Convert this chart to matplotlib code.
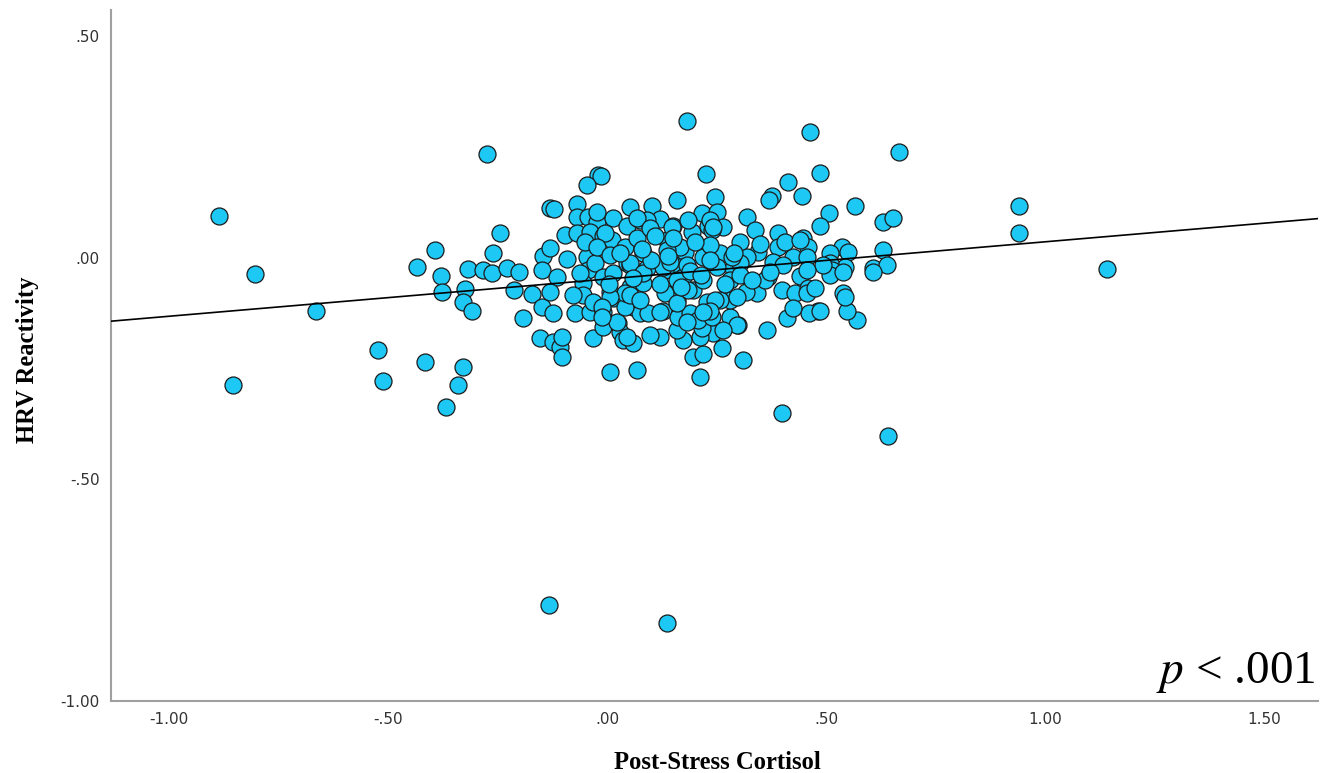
import matplotlib
matplotlib.use("Agg")
import matplotlib.pyplot as plt

# post-stress cortisol (x) vs HRV reactivity (y)
cortisol = [
    -0.886, -0.854, -0.804, -0.664, -0.523, -0.511, -0.434, -0.416, -0.393, -0.379,
    -0.377, -0.368, -0.340, -0.329, -0.324, -0.329, -0.317, -0.308, -0.274, -0.283,
    -0.263, -0.260, -0.244, -0.228, -0.201, -0.212, -0.192, -0.171, -0.148, -0.123,
    -0.153, -0.123, -0.107, -0.103, -0.146, -0.148, -0.091, -0.046, -0.043, -0.055,
    -0.073, -0.039, -0.032, 0.007, 0.068, -0.009, 0.025, 0.030, 0.037, 0.059,
    0.059, 0.014, -0.055, -0.078, -0.132, 0.137, -0.021, -0.014, -0.046, -0.130,
    -0.121, -0.068, 0.053, -0.068, -0.043, -0.023, 0.014, 0.046, 0.075, -0.096,
    -0.068, -0.039, -0.009, 0.011, 0.041, 0.068, 0.082, -0.114, -0.027, -0.009,
    0.014, 0.046, -0.130, 0.007, 0.053, 0.082, 0.183, 0.463, 0.667, 0.226,
    0.486, 0.413, 0.377, 0.370, 0.445, 0.566, 0.507, 0.486, 0.630, 0.653,
    0.160, 0.247, 0.103, 0.320, 0.338, 0.217, 0.251, 0.121, 0.151, 0.194,
    0.231, 0.265, 0.304, 0.390, 0.390, 0.447, 0.459, 0.537, 0.550, 0.509,
    0.630, 0.607, 0.639, 0.543, 0.509, 0.425, 0.441, 0.379, 0.345, 0.320,
    0.288, 0.258, 0.219, 0.178, 0.167, 0.137, 0.053, 0.091, 0.132, 0.174,
    0.281, 0.342, 0.400, 0.429, 0.459, 0.539, 0.212, 0.311, 0.400, 0.642,
    0.365, 0.571, 0.548, 0.543, 0.482, 0.461, 0.411, 0.425, 0.457, 0.317,
    0.263, 0.196, 0.219, 0.299, 0.281, 0.242, 0.212, 0.174, 0.160, 0.121,
    0.098, 0.046, 0.023, 0.075, 0.041, 0.094, 0.128, 0.162, 0.189, 0.217,
    0.208, 0.281, 0.258, 0.228, 0.196, 0.160, 0.132, 0.041, 0.007, -0.009,
    0.251, 0.304, 0.368, 0.402, 0.457, 0.514, 0.160, -0.103, -0.032, -0.011,
    0.121, 0.183, 0.240, 0.247, 0.185, 0.219, 0.053, 0.160, 0.486, 0.475,
    0.361, 0.297, 0.297, 0.265, 0.235, 0.607, 0.509, 0.539, -0.023, 0.091,
    0.068, 0.148, 0.185, 0.235, -0.050, -0.005, 0.098, 0.167, 0.240, 0.235,
    -0.130, -0.023, 0.007, 0.053, 0.128, 0.137, 0.183, 0.235, -0.062, 0.082,
    0.406, 0.441, 0.493, 0.285, 0.457, 0.372, 0.304, 0.242, -0.011, 0.075,
    0.219, 0.941, 0.941, 1.142,
    0.110, 0.150, 0.200, 0.030, 0.100, 0.145, 0.190, 0.060, 0.120, 0.170,
    0.215, 0.080, 0.140, 0.005, 0.270, 0.330, 0.350, 0.290,
]
hrv = [
    0.094, -0.288, -0.037, -0.119, -0.209, -0.277, -0.021, -0.236, 0.017, -0.042,
    -0.078, -0.337, -0.288, -0.247, -0.071, -0.100, -0.026, -0.119, 0.234, -0.028,
    -0.035, 0.010, 0.055, -0.024, -0.033, -0.073, -0.137, -0.082, -0.112, -0.125,
    -0.182, -0.191, -0.202, -0.225, 0.003, -0.028, -0.003, 0.001, -0.028, -0.058,
    -0.125, -0.123, -0.182, -0.258, -0.254, -0.157, -0.148, -0.168, -0.186, -0.193,
    -0.112, -0.091, -0.085, -0.085, -0.784, -0.823, 0.186, 0.184, 0.164, 0.112,
    0.109, 0.121, 0.114, 0.091, 0.091, 0.080, 0.089, 0.071, 0.085, 0.051,
    0.055, 0.058, 0.049, 0.040, 0.024, 0.044, 0.010, -0.044, -0.012, -0.044,
    -0.035, -0.012, -0.078, -0.078, -0.067, -0.058, 0.308, 0.283, 0.238, 0.188,
    0.191, 0.170, 0.139, 0.130, 0.139, 0.116, 0.100, 0.071, 0.080, 0.089,
    0.130, 0.137, 0.116, 0.091, 0.062, 0.100, 0.103, 0.087, 0.071, 0.058,
    0.071, 0.069, 0.035, 0.055, 0.024, 0.044, 0.024, 0.024, 0.012, 0.010,
    0.017, -0.024, -0.017, -0.021, -0.012, 0.001, -0.042, -0.010, 0.012, 0.001,
    -0.024, 0.010, 0.001, 0.012, -0.021, 0.040, -0.017, -0.024, -0.028, -0.044,
    -0.051, -0.080, -0.073, -0.080, -0.069, -0.080, -0.270, -0.231, -0.351, -0.403,
    -0.164, -0.141, -0.119, -0.089, -0.119, -0.125, -0.137, -0.114, -0.080, -0.078,
    -0.204, -0.225, -0.216, -0.152, -0.134, -0.170, -0.179, -0.186, -0.164, -0.179,
    -0.175, -0.179, -0.146, -0.125, -0.112, -0.125, -0.119, -0.134, -0.125, -0.159,
    -0.141, -0.096, -0.096, -0.100, -0.073, -0.096, -0.080, -0.080, -0.089, -0.123,
    -0.021, -0.012, -0.044, -0.017, 0.001, -0.028, -0.051, -0.179, -0.100, -0.112,
    -0.123, -0.146, -0.134, -0.096, -0.073, -0.051, -0.085, -0.103, -0.121, -0.069,
    -0.051, -0.089, -0.152, -0.164, -0.119, -0.033, -0.040, -0.033, 0.103, 0.085,
    0.089, 0.069, 0.085, 0.085, 0.035, 0.055, 0.067, 0.024, 0.062, 0.028,
    0.021, 0.024, 0.006, -0.012, -0.021, 0.017, -0.017, -0.006, -0.035, -0.035,
    0.035, 0.040, -0.017, 0.001, -0.028, -0.033, -0.040, 0.069, -0.134, -0.096,
    -0.123, 0.117, 0.055, -0.026,
    0.050, 0.045, 0.035, 0.010, -0.005, -0.010, -0.030, -0.045, -0.060, -0.065,
    -0.040, 0.020, 0.005, -0.060, -0.060, -0.050, 0.030, 0.010,
]

# fit line shown in the figure
FIT_INTERCEPT = -0.048
FIT_SLOPE = 0.084

x_ticks = [-1.0, -0.5, 0.0, 0.5, 1.0, 1.5]
x_tick_labels = ["-1.00", "-.50", ".00", ".50", "1.00", "1.50"]
y_ticks = [-1.0, -0.5, 0.0, 0.5]
y_tick_labels = ["-1.00", "-.50", ".00", ".50"]

X_MIN, X_MAX = -1.132, 1.623
Y_MIN, Y_MAX = -1.0, 0.559

plt.rcParams["mathtext.fontset"] = "stix"

fig = plt.figure(figsize=(13.26, 7.73), dpi=100)
ax = fig.add_axes([0.0837, 0.0931, 0.9103, 0.8940])

ax.scatter(cortisol, hrv, s=150, facecolor="#1ec8f5", edgecolor="#1a1a1a",
           linewidth=0.9, zorder=2)

ax.plot([X_MIN, X_MAX],
        [FIT_INTERCEPT + FIT_SLOPE * X_MIN, FIT_INTERCEPT + FIT_SLOPE * X_MAX],
        color="black", linewidth=1.2, zorder=3)

ax.set_xlim(X_MIN, X_MAX)
ax.set_ylim(Y_MIN, Y_MAX)

ax.set_xticks(x_ticks)
ax.set_xticklabels(x_tick_labels)
ax.set_yticks(y_ticks)
ax.set_yticklabels(y_tick_labels)
ax.tick_params(length=0, labelsize=11, labelcolor="#333333")
ax.tick_params(axis="x", pad=8)
ax.tick_params(axis="y", pad=8)

for side in ["top", "right"]:
    ax.spines[side].set_visible(False)
for side in ["left", "bottom"]:
    ax.spines[side].set_color("#a0a0a0")
    ax.spines[side].set_linewidth(1.5)

fig.text(0.5407, 0.0142, "Post-Stress Cortisol", family="Liberation Serif",
         fontweight="bold", fontsize=17.7, ha="center", va="center")
fig.text(0.0211, 0.535, "HRV Reactivity", family="Liberation Serif",
         fontweight="bold", fontsize=17.7, ha="center", va="center", rotation=90)

fig.text(0.9917, 0.1164, "$p$ < .001", family="Liberation Serif",
         fontsize=34, ha="right", va="baseline")

fig.savefig("out.png", dpi=100)
